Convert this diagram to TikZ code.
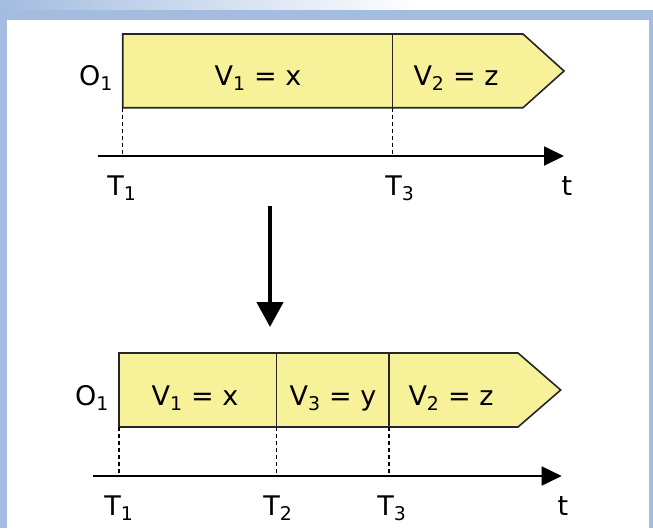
\documentclass[tikz,border=0pt]{standalone}
\usepackage{fontspec}
\setmainfont{DejaVu Sans}
\usepackage{xcolor}
\usetikzlibrary{arrows.meta, positioning, calc}
\definecolor{barfill}{RGB}{247,242,153}
\definecolor{frameblue}{RGB}{163,188,224}

\begin{document}
\begin{tikzpicture}[x=1pt, y=-1pt,
  every node/.style={font=\fontsize{27}{31}\selectfont, inner sep=0pt, anchor=base},
  bar/.style={draw=black!85, line width=1.6pt, fill=barfill, line join=miter},
  sep/.style={draw=black!85, line width=1.3pt},
  tick/.style={line width=1.3pt, dash pattern=on 4pt off 3pt},
  ax/.style={-{Triangle[length=20pt, width=19pt]}, line width=1.8pt},
  down/.style={-{Triangle[length=25pt, width=26pt]}, line width=4.5pt}]
\useasboundingbox (0,0) rectangle (653,528);
% frame
\shade[left color=frameblue, right color=white] (0,0) rectangle (420,10);
\fill[frameblue] (0,10) rectangle (653,20);
\fill[frameblue] (0,10) rectangle (6.5,528);
\fill[frameblue] (649,10) rectangle (653,528);

% before
\draw[bar] (122.7,34) -- (523,34) -- (564,71) -- (523,107.7) -- (122.7,107.7) -- cycle;
\draw[sep] (392.7,34) -- (392.7,107.7);
\node (o1a) at (96,85)  {O\textsubscript{1}};
\node (v1a) at (258,85) {V\textsubscript{1} = x};
\node (v2a) at (456,85) {V\textsubscript{2} = z};
\coordinate (a0) at (97.7,156);
\coordinate (a9) at (564,156);
\coordinate (b1) at (122.7,107.7);
\coordinate (b3) at (392.7,107.7);
\draw[ax] (a0) -- (a9);
\draw[tick] (b1) -- (b1 |- a0);
\draw[tick] (b3) -- (b3 |- a0);
\node (t1a) at (122,195) {T\textsubscript{1}};
\node (t3a) at (400,195) {T\textsubscript{3}};
\node (ta)  at (567,195) {t};

% step
\coordinate (d0) at (270,206);
\coordinate (d1) at (270,327);
\draw[down] (d0) -- (d1);

% after
\draw[bar] (119,353) -- (518,353) -- (560.7,390) -- (518,427) -- (119,427) -- cycle;
\draw[sep] (276.7,353) -- (276.7,427);
\draw[sep] (389,353) -- (389,427);
\node (o1b) at (92,405)  {O\textsubscript{1}};
\node (v1b) at (195,405) {V\textsubscript{1} = x};
\node (v3b) at (333,405) {V\textsubscript{3} = y};
\node (v2b) at (451,405) {V\textsubscript{2} = z};
\coordinate (c0) at (93,476);
\coordinate (c9) at (561.7,476);
\coordinate (e1) at (119,427);
\coordinate (e2) at (276.7,427);
\coordinate (e3) at (389,427);
\draw[ax] (c0) -- (c9);
\draw[tick] (e1) -- (e1 |- c0);
\draw[tick] (e2) -- (e2 |- c0);
\draw[tick] (e3) -- (e3 |- c0);
\node (t1b) at (119,515) {T\textsubscript{1}};
\node (t2b) at (278,515) {T\textsubscript{2}};
\node (t3b) at (392,515) {T\textsubscript{3}};
\node (tb)  at (563,515) {t};
\end{tikzpicture}
\end{document}
